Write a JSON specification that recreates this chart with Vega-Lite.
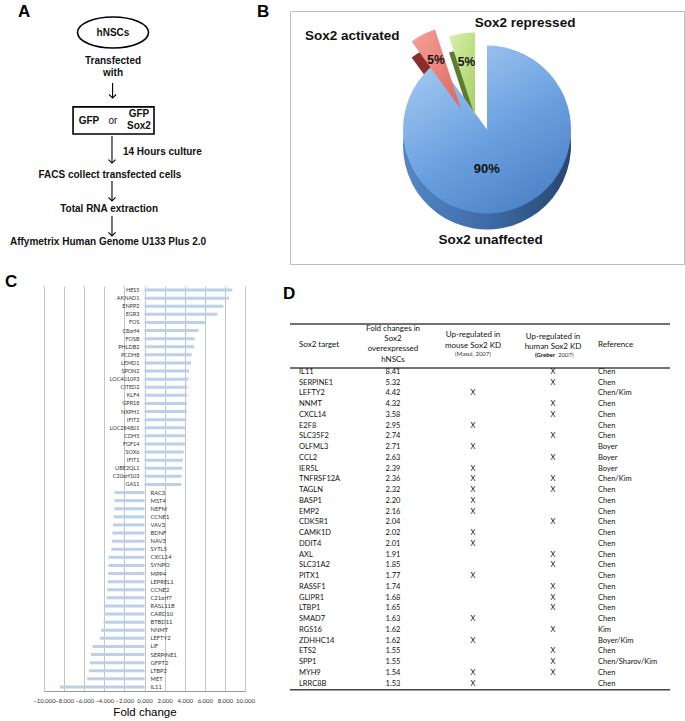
{
  "$schema": "https://vega.github.io/schema/vega-lite/v6.json",
  "padding": {"left": 5, "top": 2, "right": 0, "bottom": 0},
  "background": "white",
  "bounds": "flush",
  "columns": 2,
  "spacing": {"row": 22, "column": 40},
  "config": {
    "view": {"stroke": null},
    "font": "Liberation Sans",
    "title": {"fontSize": 17, "fontWeight": "bold", "font": "Liberation Sans", "anchor": "start", "frame": "group", "baseline": "alphabetic", "color": "#000"}
  },
  "datasets": {
    "flow": [
      {"role": "start", "label": "hNSCs", "x": 33.5, "y": 8.5},
      {"role": "step", "label": "Transfected\nwith", "x": 33.5, "y": 19.8},
      {"role": "arrow", "x": 33.3, "y": 28.5, "y2": 34.4},
      {"role": "box", "x": 14.1, "x2": 53.4, "y": 37.9, "y2": 48.6},
      {"role": "step", "label": "GFP", "x": 21.8, "y": 43.3},
      {"role": "conj", "label": "or", "x": 33.5, "y": 43.6},
      {"role": "step", "label": "GFP\nSox2", "x": 46.1, "y": 40.7},
      {"role": "arrow", "x": 33.0, "y": 49.4, "y2": 60.1},
      {"role": "note", "label": "14 Hours culture", "x": 38.3, "y": 55.7},
      {"role": "step", "label": "FACS collect transfected cells", "x": 32.0, "y": 64.8},
      {"role": "arrow", "x": 33.0, "y": 67.2, "y2": 75.1},
      {"role": "step", "label": "Total RNA extraction", "x": 31.6, "y": 78.3},
      {"role": "arrow", "x": 33.0, "y": 81.0, "y2": 88.9},
      {"role": "step", "label": "Affymetrix Human Genome U133 Plus 2.0", "x": 31.1, "y": 91.3}
    ],
    "pie": [
      {"group": "Sox2 unaffected", "share": 0.90, "order": 1},
      {"group": "Sox2 activated", "share": 0.05, "order": 2},
      {"group": "Sox2 repressed", "share": 0.05, "order": 3}
    ],
    "fold": [
      {"gene": "HES5", "fc": 8.74},
      {"gene": "AKNAD1", "fc": 8.4},
      {"gene": "ENPP2", "fc": 7.84},
      {"gene": "EGR3", "fc": 7.24},
      {"gene": "FOS", "fc": 6.03},
      {"gene": "C8orf4", "fc": 5.37},
      {"gene": "FOSB", "fc": 5.0},
      {"gene": "PHLDB2", "fc": 4.93},
      {"gene": "PCDH8", "fc": 4.7},
      {"gene": "LEMD1", "fc": 4.63},
      {"gene": "SPON2", "fc": 4.43},
      {"gene": "LOC401093", "fc": 4.37},
      {"gene": "CITED2", "fc": 4.28},
      {"gene": "KLF4", "fc": 4.27},
      {"gene": "GPR18", "fc": 4.24},
      {"gene": "NXPH1", "fc": 4.23},
      {"gene": "IFIT2", "fc": 4.17},
      {"gene": "LOC284801", "fc": 4.1},
      {"gene": "CDH5", "fc": 4.07},
      {"gene": "FGF14", "fc": 4.06},
      {"gene": "SOX6", "fc": 3.9},
      {"gene": "IFIT1", "fc": 3.83},
      {"gene": "UBE2QL1", "fc": 3.77},
      {"gene": "C20orf103", "fc": 3.7},
      {"gene": "GAS1", "fc": 3.67},
      {"gene": "RAC3", "fc": -3.0},
      {"gene": "MST4", "fc": -3.0},
      {"gene": "NEFM", "fc": -3.01},
      {"gene": "CCNE1", "fc": -3.07},
      {"gene": "VAV3", "fc": -3.13},
      {"gene": "BDNF", "fc": -3.2},
      {"gene": "NAV3", "fc": -3.23},
      {"gene": "SYTL5", "fc": -3.3},
      {"gene": "CXCL14", "fc": -3.58},
      {"gene": "SYNPO", "fc": -3.59},
      {"gene": "MPP4", "fc": -3.62},
      {"gene": "LEPREL1", "fc": -3.67},
      {"gene": "CCNE2", "fc": -3.7},
      {"gene": "C21orf7", "fc": -3.77},
      {"gene": "RASL11B", "fc": -3.97},
      {"gene": "CARD10", "fc": -4.0},
      {"gene": "BTBD11", "fc": -4.07},
      {"gene": "NNMT", "fc": -4.32},
      {"gene": "LEFTY2", "fc": -4.42},
      {"gene": "LIF", "fc": -5.17},
      {"gene": "SERPINE1", "fc": -5.32},
      {"gene": "GFPT2", "fc": -5.43},
      {"gene": "LTBP2", "fc": -5.53},
      {"gene": "MET", "fc": -5.7},
      {"gene": "IL11", "fc": -8.41}
    ],
    "rules": [
      {"rank": -3.46},
      {"rank": 0.63},
      {"rank": 30.58}
    ],
    "header": [
      {"col": "target", "part": "main", "rank": -1.51, "text": "Sox2 target"},
      {"col": "fold", "part": "main", "rank": -3.0, "text": "Fold changes in\nSox2\noverexpressed\nhNSCs"},
      {"col": "mouse", "part": "main", "rank": -2.41, "text": "Up-regulated in\nmouse Sox2 KD"},
      {"col": "mouse", "part": "note", "rank": -0.7, "text": "(Masui, 2007)"},
      {"col": "human", "part": "main", "rank": -2.28, "text": "Up-regulated in\nhuman Sox2 KD"},
      {"col": "human", "part": "author", "rank": -0.55, "text": "(Greber"},
      {"col": "human", "part": "year", "rank": -0.55, "text": "2007)"},
      {"col": "reference", "part": "main", "rank": -1.51, "text": "Reference"}
    ],
    "table": [
      {"rank": 1, "gene": "IL11", "fold": 8.41, "mouse": "", "human": "X", "ref": "Chen"},
      {"rank": 2, "gene": "SERPINE1", "fold": 5.32, "mouse": "", "human": "X", "ref": "Chen"},
      {"rank": 3, "gene": "LEFTY2", "fold": 4.42, "mouse": "X", "human": "", "ref": "Chen/Kim"},
      {"rank": 4, "gene": "NNMT", "fold": 4.32, "mouse": "", "human": "X", "ref": "Chen"},
      {"rank": 5, "gene": "CXCL14", "fold": 3.58, "mouse": "", "human": "X", "ref": "Chen"},
      {"rank": 6, "gene": "E2F8", "fold": 2.95, "mouse": "X", "human": "", "ref": "Chen"},
      {"rank": 7, "gene": "SLC35F2", "fold": 2.74, "mouse": "", "human": "X", "ref": "Chen"},
      {"rank": 8, "gene": "OLFML3", "fold": 2.71, "mouse": "X", "human": "", "ref": "Boyer"},
      {"rank": 9, "gene": "CCL2", "fold": 2.63, "mouse": "", "human": "X", "ref": "Boyer"},
      {"rank": 10, "gene": "IER5L", "fold": 2.39, "mouse": "X", "human": "", "ref": "Boyer"},
      {"rank": 11, "gene": "TNFRSF12A", "fold": 2.36, "mouse": "X", "human": "X", "ref": "Chen/Kim"},
      {"rank": 12, "gene": "TAGLN", "fold": 2.32, "mouse": "X", "human": "X", "ref": "Chen"},
      {"rank": 13, "gene": "BASP1", "fold": 2.20, "mouse": "X", "human": "", "ref": "Chen"},
      {"rank": 14, "gene": "EMP2", "fold": 2.16, "mouse": "X", "human": "", "ref": "Chen"},
      {"rank": 15, "gene": "CDK5R1", "fold": 2.04, "mouse": "", "human": "X", "ref": "Chen"},
      {"rank": 16, "gene": "CAMK1D", "fold": 2.02, "mouse": "X", "human": "", "ref": "Chen"},
      {"rank": 17, "gene": "DDIT4", "fold": 2.01, "mouse": "X", "human": "", "ref": "Chen"},
      {"rank": 18, "gene": "AXL", "fold": 1.91, "mouse": "", "human": "X", "ref": "Chen"},
      {"rank": 19, "gene": "SLC31A2", "fold": 1.85, "mouse": "", "human": "X", "ref": "Chen"},
      {"rank": 20, "gene": "PITX1", "fold": 1.77, "mouse": "X", "human": "", "ref": "Chen"},
      {"rank": 21, "gene": "RASSF1", "fold": 1.74, "mouse": "", "human": "X", "ref": "Chen"},
      {"rank": 22, "gene": "GLIPR1", "fold": 1.68, "mouse": "", "human": "X", "ref": "Chen"},
      {"rank": 23, "gene": "LTBP1", "fold": 1.65, "mouse": "", "human": "X", "ref": "Chen"},
      {"rank": 24, "gene": "SMAD7", "fold": 1.63, "mouse": "X", "human": "", "ref": "Chen"},
      {"rank": 25, "gene": "RGS16", "fold": 1.62, "mouse": "", "human": "X", "ref": "Kim"},
      {"rank": 26, "gene": "ZDHHC14", "fold": 1.62, "mouse": "X", "human": "", "ref": "Boyer/Kim"},
      {"rank": 27, "gene": "ETS2", "fold": 1.55, "mouse": "", "human": "X", "ref": "Chen"},
      {"rank": 28, "gene": "SPP1", "fold": 1.55, "mouse": "", "human": "X", "ref": "Chen/Sharov/Kim"},
      {"rank": 29, "gene": "MYH9", "fold": 1.54, "mouse": "X", "human": "X", "ref": "Chen"},
      {"rank": 30, "gene": "LRRC8B", "fold": 1.53, "mouse": "X", "human": "", "ref": "Chen"}
    ]
  },
  "concat": [
    {
      "width": 206,
      "height": 253,
      "title": {"text": "A", "offset": -10, "dx": -26},
      "data": {"name": "flow"},
      "encoding": {
        "x": {"field": "x", "type": "quantitative", "scale": {"domain": [0, 100]}, "axis": null},
        "y": {"field": "y", "type": "quantitative", "scale": {"domain": [0, 100], "reverse": true}, "axis": null}
      },
      "layer": [
        {
          "transform": [{"filter": "datum.role == 'start'"}],
          "mark": {"type": "point", "shape": "M-1,0A1,0.437,0,1,1,1,0A1,0.437,0,1,1,-1,0Z", "size": 5041, "filled": false, "stroke": "#000", "strokeWidth": 1.6, "opacity": 1}
        },
        {
          "transform": [{"filter": "datum.role == 'box'"}],
          "mark": {"type": "rect", "filled": false, "stroke": "#000", "strokeWidth": 1.6},
          "encoding": {"x2": {"field": "x2"}, "y2": {"field": "y2"}}
        },
        {
          "transform": [{"filter": "datum.role == 'arrow'"}],
          "mark": {"type": "rule", "strokeWidth": 1.1, "color": "#000"},
          "encoding": {"y2": {"field": "y2"}}
        },
        {
          "transform": [{"filter": "datum.role == 'arrow'"}],
          "mark": {"type": "point", "shape": "M-1,-1L0,0L1,-1", "size": 50, "filled": false, "stroke": "#000", "strokeWidth": 1.1, "opacity": 1},
          "encoding": {"y": {"field": "y2", "type": "quantitative", "scale": {"domain": [0, 100], "reverse": true}, "axis": null}}
        },
        {
          "transform": [{"filter": "datum.role == 'start' || datum.role == 'step'"}],
          "mark": {"type": "text", "fontWeight": "bold", "fontSize": 10, "lineBreak": "\n", "lineHeight": 12, "align": "center", "baseline": "middle", "color": "#111"},
          "encoding": {"text": {"field": "label"}}
        },
        {
          "transform": [{"filter": "datum.role == 'conj'"}],
          "mark": {"type": "text", "fontSize": 10, "align": "center", "baseline": "middle", "color": "#111"},
          "encoding": {"text": {"field": "label"}}
        },
        {
          "transform": [{"filter": "datum.role == 'note'"}],
          "mark": {"type": "text", "fontWeight": "bold", "fontSize": 10, "align": "left", "baseline": "middle", "color": "#111"},
          "encoding": {"text": {"field": "label"}}
        }
      ]
    },
    {
      "width": 394,
      "height": 253,
      "view": {"stroke": "#bdbdbd", "strokeWidth": 1},
      "title": {"text": "B", "offset": -10, "dx": -33},
      "data": {"name": "pie"},
      "transform": [{"stack": "share", "groupby": [], "sort": [{"field": "order", "order": "ascending"}], "as": ["start", "end"]}],
      "layer": [
        {
          "transform": [{"filter": "datum.group == 'Sox2 unaffected'"}],
          "mark": {"type": "arc", "radius": 84, "yOffset": 8, "color": {"gradient": "linear", "x1": 0, "y1": 0, "x2": 1, "y2": 0, "stops": [{"offset": 0, "color": "#5587c6"}, {"offset": 0.5, "color": "#3d6ca8"}, {"offset": 1, "color": "#28466f"}]}},
          "encoding": {"theta": {"field": "start", "type": "quantitative", "scale": {"domain": [0, 1]}, "stack": null}, "theta2": {"field": "end"}}
        },
        {
          "transform": [{"filter": "datum.group == 'Sox2 activated'"}],
          "mark": {"type": "arc", "radius": 84, "xOffset": -26, "yOffset": -12, "color": "#8a2e2a"},
          "encoding": {"theta": {"field": "start", "type": "quantitative", "scale": {"domain": [0, 1]}, "stack": null}, "theta2": {"field": "end"}}
        },
        {
          "transform": [{"filter": "datum.group == 'Sox2 repressed'"}],
          "mark": {"type": "arc", "radius": 84, "xOffset": -12, "yOffset": -5, "color": "#5c7c33"},
          "encoding": {"theta": {"field": "start", "type": "quantitative", "scale": {"domain": [0, 1]}, "stack": null}, "theta2": {"field": "end"}}
        },
        {
          "transform": [{"filter": "datum.group == 'Sox2 unaffected'"}],
          "mark": {"type": "arc", "radius": 84, "yOffset": -8, "color": {"gradient": "linear", "x1": 0.2, "y1": 0, "x2": 0.8, "y2": 1, "stops": [{"offset": 0, "color": "#a6caf3"}, {"offset": 0.55, "color": "#6a9fdf"}, {"offset": 1, "color": "#4a80c4"}]}},
          "encoding": {"theta": {"field": "start", "type": "quantitative", "scale": {"domain": [0, 1]}, "stack": null}, "theta2": {"field": "end"}}
        },
        {
          "transform": [{"filter": "datum.group == 'Sox2 activated'"}],
          "mark": {"type": "arc", "radius": 84, "xOffset": -26, "yOffset": -28, "color": {"gradient": "linear", "x1": 0, "y1": 0, "x2": 1, "y2": 1, "stops": [{"offset": 0, "color": "#f4a29a"}, {"offset": 1, "color": "#e0665c"}]}},
          "encoding": {"theta": {"field": "start", "type": "quantitative", "scale": {"domain": [0, 1]}, "stack": null}, "theta2": {"field": "end"}}
        },
        {
          "transform": [{"filter": "datum.group == 'Sox2 repressed'"}],
          "mark": {"type": "arc", "radius": 84, "xOffset": -12, "yOffset": -21, "color": {"gradient": "linear", "x1": 0, "y1": 0, "x2": 1, "y2": 1, "stops": [{"offset": 0, "color": "#d9f0a8"}, {"offset": 1, "color": "#a6cf66"}]}},
          "encoding": {"theta": {"field": "start", "type": "quantitative", "scale": {"domain": [0, 1]}, "stack": null}, "theta2": {"field": "end"}}
        },
        {
          "mark": {"type": "text", "radius": 41.5, "yOffset": -8, "dx": -13, "fontSize": 13, "fontWeight": "bold", "color": "#111"},
          "encoding": {
            "theta": {"field": "share", "type": "quantitative", "stack": true, "scale": {"domain": [0, 1]}},
            "order": {"field": "order"},
            "text": {"condition": {"test": "datum.group == 'Sox2 unaffected'", "field": "share", "format": ".0%"}, "value": ""}
          }
        },
        {
          "mark": {"type": "text", "radius": 55, "xOffset": -26, "yOffset": -28, "fontSize": 12, "fontWeight": "bold", "color": "#111"},
          "encoding": {
            "theta": {"field": "share", "type": "quantitative", "stack": true, "scale": {"domain": [0, 1]}},
            "order": {"field": "order"},
            "text": {"condition": {"test": "datum.group == 'Sox2 activated'", "field": "share", "format": ".0%"}, "value": ""}
          }
        },
        {
          "mark": {"type": "text", "radius": 55, "xOffset": -12, "yOffset": -21, "fontSize": 12, "fontWeight": "bold", "color": "#111"},
          "encoding": {
            "theta": {"field": "share", "type": "quantitative", "stack": true, "scale": {"domain": [0, 1]}},
            "order": {"field": "order"},
            "text": {"condition": {"test": "datum.group == 'Sox2 repressed'", "field": "share", "format": ".0%"}, "value": ""}
          }
        },
        {
          "mark": {"type": "text", "radius": 112, "yOffset": -8, "dx": -31, "dy": 4, "fontSize": 13.5, "fontWeight": "bold", "color": "#111"},
          "encoding": {
            "theta": {"field": "share", "type": "quantitative", "stack": true, "scale": {"domain": [0, 1]}},
            "order": {"field": "order"},
            "text": {"condition": {"test": "datum.group == 'Sox2 unaffected'", "field": "group"}, "value": ""}
          }
        },
        {
          "mark": {"type": "text", "radius": 112, "yOffset": -8, "dx": -84, "dy": 6, "fontSize": 13.5, "fontWeight": "bold", "color": "#111"},
          "encoding": {
            "theta": {"field": "share", "type": "quantitative", "stack": true, "scale": {"domain": [0, 1]}},
            "order": {"field": "order"},
            "text": {"condition": {"test": "datum.group == 'Sox2 activated'", "field": "group"}, "value": ""}
          }
        },
        {
          "mark": {"type": "text", "radius": 108, "yOffset": -8, "dx": 55, "fontSize": 13.5, "fontWeight": "bold", "color": "#111"},
          "encoding": {
            "theta": {"field": "share", "type": "quantitative", "stack": true, "scale": {"domain": [0, 1]}},
            "order": {"field": "order"},
            "text": {"condition": {"test": "datum.group == 'Sox2 repressed'", "field": "group"}, "value": ""}
          }
        }
      ]
    },
    {
      "width": 201,
      "height": 405,
      "title": {"text": "C", "offset": -5, "dx": -39},
      "data": {"name": "fold"},
      "encoding": {
        "y": {"field": "gene", "type": "nominal", "sort": null, "axis": null, "scale": {"paddingInner": 0, "paddingOuter": 0}},
        "x": {
          "field": "fc", "type": "quantitative",
          "scale": {"domain": [-10, 10], "nice": false},
          "axis": {"values": [-10, -8, -6, -4, -2, 0, 2, 4, 6, 8, 10], "format": ".3f", "grid": true, "gridColor": "#c4c4c4", "ticks": false, "domainColor": "#9a9a9a", "labelFont": "Lato", "labelFontSize": 6, "labelColor": "#333", "labelPadding": 6, "labelOverlap": false, "labelFlush": false, "labelBound": false, "title": "Fold change", "titleFont": "Liberation Sans", "titleFontSize": 11.5, "titleFontWeight": "normal", "titleColor": "#000", "titlePadding": 3}
        }
      },
      "layer": [
        {"mark": {"type": "bar", "size": 3, "color": "#bcd0e8"}},
        {
          "transform": [{"filter": "datum.fc > 0"}],
          "mark": {"type": "text", "align": "right", "baseline": "middle", "dx": -5, "font": "Lato", "fontSize": 5.5, "color": "#333"},
          "encoding": {"x": {"datum": 0, "type": "quantitative"}, "text": {"field": "gene"}}
        },
        {
          "transform": [{"filter": "datum.fc < 0"}],
          "mark": {"type": "text", "align": "left", "baseline": "middle", "dx": 6, "font": "Lato", "fontSize": 5.8, "color": "#333"},
          "encoding": {"x": {"datum": 0, "type": "quantitative"}, "text": {"field": "gene"}}
        }
      ]
    },
    {
      "width": 380,
      "height": 404,
      "title": {"text": "D", "offset": -17, "dx": -7},
      "data": {"name": "table"},
      "encoding": {
        "y": {"field": "rank", "type": "quantitative", "scale": {"domain": [-7, 30.6], "reverse": true, "nice": false, "zero": false}, "axis": null}
      },
      "layer": [
        {
          "data": {"name": "rules"},
          "mark": {"type": "rule", "color": "#444", "strokeWidth": 1.5}
        },
        {
          "data": {"name": "header"},
          "transform": [{"filter": "datum.col == 'target'"}],
          "mark": {"type": "text", "align": "left", "baseline": "middle", "dx": -14, "font": "Lato", "fontSize": 8, "color": "#111"},
          "encoding": {
            "x": {"field": "col", "type": "nominal", "scale": {"type": "point", "domain": ["target", "fold", "mouse", "human", "reference"], "range": [23, 343], "padding": 0}, "axis": null},
            "text": {"field": "text"}
          }
        },
        {
          "data": {"name": "header"},
          "transform": [{"filter": "datum.col == 'reference'"}],
          "mark": {"type": "text", "align": "left", "baseline": "middle", "dx": -35, "font": "Lato", "fontSize": 8, "color": "#111"},
          "encoding": {
            "x": {"field": "col", "type": "nominal", "scale": {"type": "point", "domain": ["target", "fold", "mouse", "human", "reference"], "range": [23, 343], "padding": 0}, "axis": null},
            "text": {"field": "text"}
          }
        },
        {
          "data": {"name": "header"},
          "transform": [{"filter": "datum.part == 'main' && datum.col != 'target' && datum.col != 'reference'"}],
          "mark": {"type": "text", "align": "center", "baseline": "middle", "lineBreak": "\n", "lineHeight": 10.2, "font": "Lato", "fontSize": 8, "color": "#111"},
          "encoding": {
            "x": {"field": "col", "type": "nominal", "scale": {"type": "point", "domain": ["target", "fold", "mouse", "human", "reference"], "range": [23, 343], "padding": 0}, "axis": null},
            "text": {"field": "text"}
          }
        },
        {
          "data": {"name": "header"},
          "transform": [{"filter": "datum.part == 'note'"}],
          "mark": {"type": "text", "align": "center", "baseline": "middle", "font": "Lato", "fontSize": 6, "color": "#333"},
          "encoding": {
            "x": {"field": "col", "type": "nominal", "scale": {"type": "point", "domain": ["target", "fold", "mouse", "human", "reference"], "range": [23, 343], "padding": 0}, "axis": null},
            "text": {"field": "text"}
          }
        },
        {
          "data": {"name": "header"},
          "transform": [{"filter": "datum.part == 'author'"}],
          "mark": {"type": "text", "align": "right", "baseline": "middle", "dx": 2, "font": "Lato", "fontSize": 6, "fontWeight": "bold", "color": "#111"},
          "encoding": {
            "x": {"field": "col", "type": "nominal", "scale": {"type": "point", "domain": ["target", "fold", "mouse", "human", "reference"], "range": [23, 343], "padding": 0}, "axis": null},
            "text": {"field": "text"}
          }
        },
        {
          "data": {"name": "header"},
          "transform": [{"filter": "datum.part == 'year'"}],
          "mark": {"type": "text", "align": "left", "baseline": "middle", "dx": 5, "font": "Lato", "fontSize": 6, "color": "#333"},
          "encoding": {
            "x": {"field": "col", "type": "nominal", "scale": {"type": "point", "domain": ["target", "fold", "mouse", "human", "reference"], "range": [23, 343], "padding": 0}, "axis": null},
            "text": {"field": "text"}
          }
        },
        {
          "mark": {"type": "text", "align": "left", "baseline": "middle", "dx": -14, "font": "Lato", "fontSize": 7.5, "color": "#111"},
          "encoding": {
            "x": {"datum": "target", "type": "nominal", "scale": {"type": "point", "domain": ["target", "fold", "mouse", "human", "reference"], "range": [23, 343], "padding": 0}, "axis": null},
            "text": {"field": "gene"}
          }
        },
        {
          "mark": {"type": "text", "align": "center", "baseline": "middle", "font": "Lato", "fontSize": 7.5, "color": "#111"},
          "encoding": {
            "x": {"datum": "fold", "type": "nominal", "scale": {"type": "point", "domain": ["target", "fold", "mouse", "human", "reference"], "range": [23, 343], "padding": 0}, "axis": null},
            "text": {"field": "fold", "type": "quantitative", "format": ".2f"}
          }
        },
        {
          "mark": {"type": "text", "align": "center", "baseline": "middle", "font": "Lato", "fontSize": 7.5, "color": "#111"},
          "encoding": {
            "x": {"datum": "mouse", "type": "nominal", "scale": {"type": "point", "domain": ["target", "fold", "mouse", "human", "reference"], "range": [23, 343], "padding": 0}, "axis": null},
            "text": {"field": "mouse"}
          }
        },
        {
          "mark": {"type": "text", "align": "center", "baseline": "middle", "font": "Lato", "fontSize": 7.5, "color": "#111"},
          "encoding": {
            "x": {"datum": "human", "type": "nominal", "scale": {"type": "point", "domain": ["target", "fold", "mouse", "human", "reference"], "range": [23, 343], "padding": 0}, "axis": null},
            "text": {"field": "human"}
          }
        },
        {
          "mark": {"type": "text", "align": "left", "baseline": "middle", "dx": -35, "font": "Lato", "fontSize": 7.5, "color": "#111"},
          "encoding": {
            "x": {"datum": "reference", "type": "nominal", "scale": {"type": "point", "domain": ["target", "fold", "mouse", "human", "reference"], "range": [23, 343], "padding": 0}, "axis": null},
            "text": {"field": "ref"}
          }
        }
      ]
    }
  ]
}
